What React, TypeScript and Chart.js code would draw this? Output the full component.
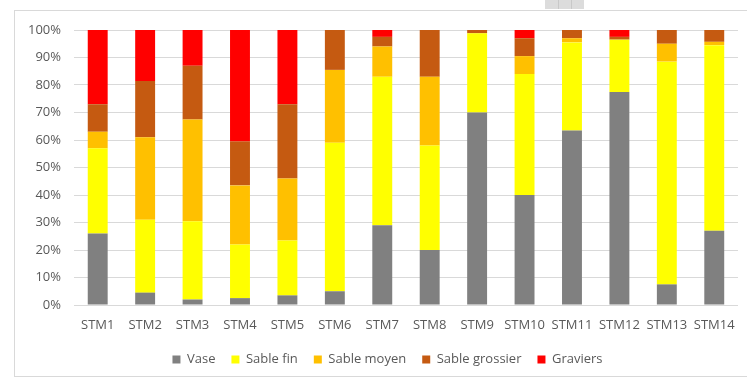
import React, { useEffect, useRef } from "react";
import { Chart, registerables } from "chart.js";

Chart.register(...registerables);

const categories = [
  "STM1", "STM2", "STM3", "STM4", "STM5", "STM6", "STM7",
  "STM8", "STM9", "STM10", "STM11", "STM12", "STM13", "STM14",
];

// Grain-size fractions per station (%)
const vase = [26, 4.5, 2, 2.5, 3.5, 5, 29, 20, 70, 40, 63.5, 77.5, 7.5, 27];
const sableFin = [31, 26.5, 28.5, 19.5, 20, 54, 54, 38, 28.8, 44, 32, 19, 81, 67.5];
const sableMoyen = [6, 30, 37, 21.5, 22.5, 26.5, 11, 25, 0, 6.5, 1.5, 0, 6.5, 1.2];
const sableGrossier = [10, 20.5, 19.5, 16, 27, 14.5, 3.5, 17, 1.2, 6.5, 3, 1, 5, 4.3];
const graviers = [27, 18.5, 13, 40.5, 27, 0, 2.5, 0, 0, 3, 0, 2.5, 0, 0];

const seriesNames = ["Vase", "Sable fin", "Sable moyen", "Sable grossier", "Graviers"];
const seriesColors = ["#808080", "#FFFF00", "#FFC000", "#C55A11", "#FF0000"];

const yTicks = [0, 10, 20, 30, 40, 50, 60, 70, 80, 90, 100];

const FONT = "'Open Sans', sans-serif";
const TEXT = "#595959";
const GRID = "#d9d9d9";

// Outer frame of the chart object plus the small grey tab above it
const framePlugin = {
  id: "frame",
  beforeDraw(chart: any) {
    const ctx = chart.ctx;
    ctx.save();
    ctx.fillStyle = "#ffffff";
    ctx.fillRect(0, 0, chart.width, chart.height);
    ctx.strokeStyle = "#d9d9d9";
    ctx.lineWidth = 1;
    ctx.strokeRect(14.5, 10.5, 800, 366);
    ctx.fillStyle = "#dcdcdc";
    ctx.fillRect(545, 0, 39, 9);
    ctx.strokeStyle = "#c8c8c8";
    ctx.beginPath();
    ctx.moveTo(558.5, 0);
    ctx.lineTo(558.5, 9);
    ctx.moveTo(571.5, 0);
    ctx.lineTo(571.5, 9);
    ctx.stroke();
    ctx.restore();
  },
  afterLayout(chart: any) {
    // centre the legend under the whole frame and nudge it up a little
    const lg = chart.legend;
    if (lg) {
      lg.right += 23;
      lg.top -= 2;
      lg.bottom -= 2;
    }
  },
};

export default function App() {
  const canvasRef = useRef<HTMLCanvasElement | null>(null);

  useEffect(() => {
    const values = [vase, sableFin, sableMoyen, sableGrossier, graviers];
    const chart = new Chart(canvasRef.current as HTMLCanvasElement, {
      type: "bar",
      data: {
        labels: categories,
        datasets: seriesNames.map((name, i) => ({
          label: name,
          data: values[i],
          backgroundColor: seriesColors[i],
          borderWidth: 0,
          barPercentage: 0.42,
          categoryPercentage: 1,
        })),
      },
      options: {
        responsive: false,
        animation: false,
        devicePixelRatio: 1,
        layout: { padding: { left: 14, right: 9, top: 30, bottom: 0 } },
        plugins: {
          legend: {
            position: "bottom",
            labels: {
              boxWidth: 8,
              boxHeight: 8,
              padding: 16,
              color: TEXT,
              font: { family: FONT, size: 13 },
            },
          },
          tooltip: { enabled: false },
        },
        scales: {
          x: {
            stacked: true,
            grid: { display: false, drawTicks: false },
            border: { display: true, color: GRID },
            ticks: {
              color: TEXT,
              font: { family: FONT, size: 13 },
              padding: 12,
              maxRotation: 0,
              autoSkip: false,
            },
            afterFit(scale: any) {
              scale.height = 34;
            },
          },
          y: {
            stacked: true,
            min: 0,
            max: 100,
            afterBuildTicks(scale: any) {
              scale.ticks = yTicks.map((v) => ({ value: v }));
            },
            grid: { color: GRID, drawTicks: false },
            border: { display: false },
            ticks: {
              color: TEXT,
              font: { family: FONT, size: 13 },
              padding: 13,
              callback: (v: any) => `${v}%`,
            },
            afterFit(scale: any) {
              scale.width = 60;
            },
          },
        },
      },
      plugins: [framePlugin],
    });
    return () => chart.destroy();
  }, []);

  return (
    <div style={{ position: "absolute", left: 0, top: 0, width: 747, height: 378 }}>
      <canvas ref={canvasRef} width={747} height={378} />
    </div>
  );
}
